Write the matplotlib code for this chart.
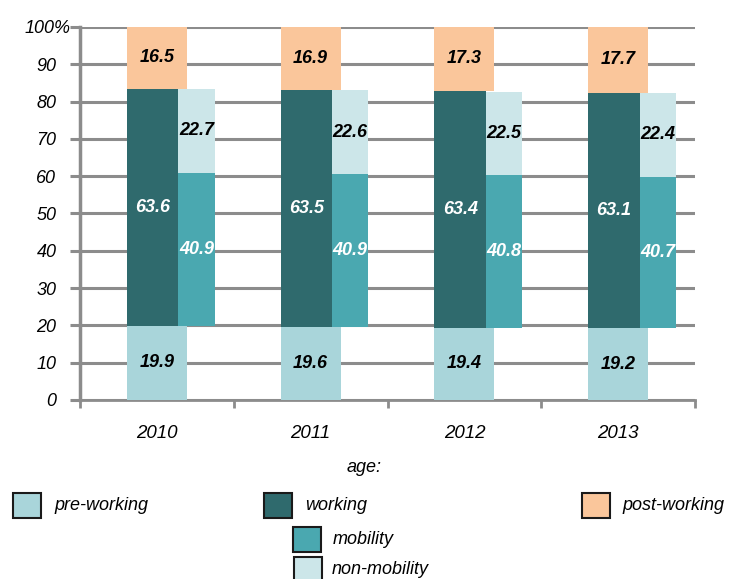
import numpy as np
import matplotlib.pyplot as plt
from matplotlib.patches import Rectangle
from matplotlib.transforms import ScaledTranslation

plt.rcParams['font.family'] = ['Liberation Sans', 'DejaVu Sans']

years = ['2010', '2011', '2012', '2013']
pre_working = [19.9, 19.6, 19.4, 19.2]
working = [63.6, 63.5, 63.4, 63.1]
post_working = [16.5, 16.9, 17.3, 17.7]
mobility = [40.9, 40.9, 40.8, 40.7]
non_mobility = [22.7, 22.6, 22.5, 22.4]

c_pre = '#a9d5da'
c_work = '#2f6a6d'
c_post = '#fac69b'
c_mob = '#4aa8b0'
c_non = '#cce6e9'
grid_c = '#8c8c8c'

x = np.arange(len(years))
pre = np.array(pre_working)
work = np.array(working)
post = np.array(post_working)
mob = np.array(mobility)
non = np.array(non_mobility)

fig = plt.figure(figsize=(7.3, 5.79), dpi=100)
ax = fig.add_axes([0.1096, 0.3092, 0.8425, 0.6442])

# wide outer bars, narrower working bar and the split bar beside it
wl, wr = -0.195, 0.195
ww = 0.335
rw = 0.235
ax.bar(x + wl, pre, width=wr - wl, align='edge', color=c_pre, zorder=3)
ax.bar(x + wl, post, width=wr - wl, bottom=pre + work, align='edge', color=c_post, zorder=3)
ax.bar(x + wl, work, width=ww, bottom=pre, align='edge', color=c_work, zorder=4)
ax.bar(x + wl + ww, mob, width=rw, bottom=pre, align='edge', color=c_mob, zorder=4)
ax.bar(x + wl + ww, non, width=rw, bottom=pre + mob, align='edge', color=c_non, zorder=4)

lab = dict(fontsize=13, fontweight='bold', fontstyle='italic', ha='center', va='center', zorder=6)
for i in range(len(years)):
    ax.text(x[i], pre[i] / 2, f'{pre[i]:.1f}', color='black', **lab)
    ax.text(x[i], pre[i] + work[i] + post[i] / 2, f'{post[i]:.1f}', color='black', **lab)
    ax.text(x[i] + wl + ww / 2, pre[i] + work[i] / 2, f'{work[i]:.1f}', color='white', **lab)
    ax.text(x[i] + wl + ww + rw / 2, pre[i] + mob[i] / 2, f'{mob[i]:.1f}', color='white', **lab)
    ax.text(x[i] + wl + ww + rw / 2, pre[i] + mob[i] + non[i] / 2, f'{non[i]:.1f}', color='black', **lab)

ax.set_xlim(-0.5, 3.5)
ax.set_ylim(0, 100)
ax.set_yticks(np.arange(0, 101, 10))
ax.set_yticklabels([str(v) for v in range(0, 100, 10)] + ['100%'], fontstyle='italic', fontsize=13)
ax.yaxis.grid(True, color=grid_c, linewidth=2.2, zorder=1)
ax.set_axisbelow(True)
ax.tick_params(axis='y', length=7, width=2.2, color=grid_c, pad=10)
top_lab = ax.get_yticklabels()[-1]
top_lab.set_transform(top_lab.get_transform() + ScaledTranslation(10 / 72, 0, fig.dpi_scale_trans))

ax.set_xticks(np.arange(-0.5, 3.6, 1.0))
ax.set_xticklabels([''] * 5)
ax.set_xticks(x, minor=True)
ax.set_xticklabels(years, minor=True, fontstyle='italic', fontsize=13.5)
ax.tick_params(axis='x', which='major', length=6, width=2, color=grid_c)
ax.tick_params(axis='x', which='minor', length=0, pad=18)

for s in ['top', 'right']:
    ax.spines[s].set_visible(False)
ax.spines['left'].set_color(grid_c)
ax.spines['left'].set_linewidth(2.5)
ax.spines['bottom'].set_color(grid_c)
ax.spines['bottom'].set_linewidth(2)

# legend drawn by hand in figure pixels
W, H = 730, 579
fig.text(364 / W, 1 - 468 / H, 'age:', ha='center', va='center', fontsize=13, fontstyle='italic')
entries = [
    ('pre-working', c_pre, 13, 493, 54),
    ('working', c_work, 264, 493, 305),
    ('post-working', c_post, 582, 493, 622),
    ('mobility', c_mob, 293, 527, 333),
    ('non-mobility', c_non, 294, 557, 332),
]
for name, col, bx, by, tx in entries:
    fig.patches.append(Rectangle((bx / W, 1 - (by + 25) / H), 28 / W, 25 / H,
                                 transform=fig.transFigure, facecolor=col,
                                 edgecolor='#1a1a1a', linewidth=1.5))
    fig.text(tx / W, 1 - (by + 12) / H, name, ha='left', va='center',
             fontsize=13, fontstyle='italic')

fig.savefig('out.png', dpi=100)
